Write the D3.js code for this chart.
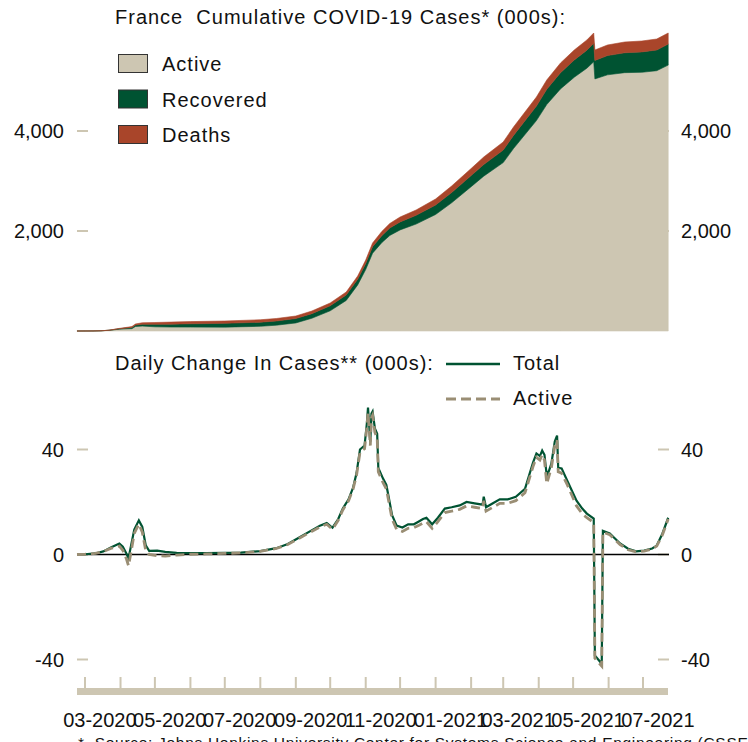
<!DOCTYPE html>
<html>
<head>
<meta charset="utf-8">
<style>
body { margin: 0; background: #fff; }
text { font-family: "Liberation Sans", Arial, sans-serif; fill: #111; white-space: pre; }
.title { font-size: 20px; letter-spacing: 1px; }
.tick text { font-size: 20px; }
.foot { font-size: 15.5px; letter-spacing: 0.7px; }
</style>
<script src="https://cdn.jsdelivr.net/npm/d3@7"></script>
</head>
<body>
<svg width="748" height="742"></svg>
<script>
// cumulative cases, thousands
var cumDates = ["2020-02-23","2020-03-08","2020-03-15","2020-03-22","2020-03-31","2020-04-07","2020-04-11","2020-04-14","2020-04-20","2020-05-01","2020-05-15","2020-06-01","2020-07-01","2020-08-01","2020-08-15","2020-09-01","2020-09-15","2020-10-01","2020-10-15","2020-10-25","2020-11-01","2020-11-07","2020-11-15","2020-11-22","2020-12-01","2020-12-15","2021-01-01","2021-01-15","2021-02-01","2021-02-12","2021-03-01","2021-03-10","2021-03-30","2021-04-08","2021-04-20","2021-05-02","2021-05-13","2021-05-19","2021-05-20","2021-05-31","2021-06-15","2021-06-30","2021-07-13","2021-07-23"];
var cumActive = [0,1,5,13,36,44,47,90,98,84,79,78,77,94,116,161,255,404,611,921,1230,1556,1767,1910,2022,2139,2330,2564,2886,3097,3368,3650,4209,4529,4842,5075,5256,5385,5042,5123,5167,5174,5206,5318];
var cumRecovered = [0,0,0,2,10,18,25,28,38,50,58,66,76,82,84,88,92,100,110,116,122,130,140,150,160,175,190,205,222,232,250,262,290,305,325,345,360,368,370,385,398,408,414,420];
var cumDeaths = [0,0,0,1,6,13,18,22,29,36,41,44,47,49,50,51,53,56,59,63,68,74,83,90,98,106,120,131,142,151,162,168,181,186,193,200,204,207,208,212,215,218,220,222];

// daily change, thousands (7-day)
var dayDates = ["2020-02-23","2020-03-01","2020-03-10","2020-03-17","2020-03-24","2020-03-31","2020-04-03","2020-04-06","2020-04-08","2020-04-10","2020-04-13","2020-04-17","2020-04-20","2020-04-23","2020-04-26","2020-05-03","2020-05-10","2020-05-20","2020-06-01","2020-06-15","2020-07-01","2020-07-15","2020-08-01","2020-08-15","2020-08-25","2020-09-04","2020-09-14","2020-09-22","2020-09-28","2020-10-03","2020-10-08","2020-10-12","2020-10-17","2020-10-21","2020-10-24","2020-10-27","2020-10-31","2020-11-02","2020-11-03","2020-11-05","2020-11-06","2020-11-07","2020-11-09","2020-11-11","2020-11-12","2020-11-14","2020-11-16","2020-11-19","2020-11-21","2020-11-24","2020-11-28","2020-12-03","2020-12-08","2020-12-13","2020-12-17","2020-12-21","2020-12-24","2020-12-29","2021-01-03","2021-01-09","2021-01-15","2021-01-22","2021-01-28","2021-02-04","2021-02-11","2021-02-12","2021-02-14","2021-02-20","2021-02-26","2021-03-05","2021-03-12","2021-03-20","2021-03-27","2021-03-30","2021-04-02","2021-04-04","2021-04-06","2021-04-08","2021-04-10","2021-04-12","2021-04-15","2021-04-17","2021-04-18","2021-04-21","2021-04-26","2021-05-04","2021-05-09","2021-05-13","2021-05-19","2021-05-20","2021-05-26","2021-05-27","2021-06-02","2021-06-11","2021-06-18","2021-06-25","2021-07-02","2021-07-09","2021-07-13","2021-07-18","2021-07-23"];
var dayTotal = [0,0.1,0.4,1.2,2.8,4.2,3.0,0.5,-1.4,3.0,9.5,13.0,10.5,3.5,1.4,1.5,1.0,0.6,0.5,0.5,0.6,0.7,1.3,2.4,4.0,6.5,9.0,11.0,12.0,10.2,13.5,17.5,21.0,25.5,31.0,40.0,41.5,50.0,56.0,43.0,53.7,54.5,48.0,46.0,33.0,31.0,29.0,26.5,22.0,15.0,11.0,10.3,11.5,11.5,12.5,13.5,14.0,11.5,14.0,17.5,18.0,18.7,20.0,19.5,19.0,22.0,18.0,19.5,21.0,21.0,22.0,25.0,35.0,38.5,37.5,39.6,38.0,30.0,32.0,34.6,43.0,45.3,33.0,32.8,28.0,20.5,17.5,15.6,13.7,-38.5,-41.6,9.0,8.0,4.2,2.2,1.2,1.5,2.3,3.4,8.0,14.0];
var dayActive = [0,0.1,0.4,1.1,2.4,3.2,1.6,-1.5,-4.3,0.5,8.0,11.6,8.5,1.5,0.0,-0.5,-0.6,-0.2,0.1,0.2,0.4,0.6,1.2,2.3,3.8,6.2,8.6,10.5,11.5,9.6,13.0,17.0,20.4,25.0,30.2,39.0,40.3,48.5,54.0,41.5,52.0,53.0,46.5,44.5,31.5,29.5,27.5,25.0,20.5,13.5,9.5,8.8,10.0,10.2,11.0,12.0,12.5,10.0,12.5,16.0,16.5,17.2,18.5,18.0,17.5,20.5,16.5,18.0,19.5,19.5,20.5,23.5,33.5,37.0,36.0,38.0,36.0,27.0,30.0,33.0,41.5,43.5,31.5,31.0,26.5,18.5,15.5,14.0,12.2,-39.5,-42.5,8.5,7.5,3.8,1.8,1.0,1.3,2.1,3.2,7.5,13.5];

var yTicksTop = [2000, 4000];
var yTicksDaily = [-40, 0, 40];
var monthTicks = ["2020-03","2020-04","2020-05","2020-06","2020-07","2020-08","2020-09","2020-10","2020-11","2020-12","2021-01","2021-02","2021-03","2021-04","2021-05","2021-06","2021-07"];
var monthLabels = ["03-2020","05-2020","07-2020","09-2020","11-2020","01-2021","03-2021","05-2021","07-2021"];

var beige = "#cdc6b2", green = "#005332", rust = "#a9452a", tan = "#9a8e74";
var parse = d3.utcParse("%Y-%m-%d");
var svg = d3.select("svg");

var x = d3.scaleUtc()
  .domain([parse("2020-03-01"), parse("2021-07-01")])
  .range([85, 643]);
var x0 = 77, x1 = 669;

// top chart
var yTop = d3.scaleLinear().domain([0, 4000]).range([331, 131]);

var rows = cumDates.map(function(d, i) {
  return { date: parse(d), active: cumActive[i], recovered: cumRecovered[i], deaths: cumDeaths[i] };
});
var stack = d3.stack().keys(["active", "recovered", "deaths"]);
var layers = stack(rows);
var colors = { active: beige, recovered: green, deaths: rust };

// plain hyphen for negatives, like the original
function fmtNum(comma) {
  var f = d3.format(comma ? "," : "");
  return function(v) { return (v < 0 ? "-" : "") + f(Math.abs(v)); };
}

function yAxes(scale, ticks, fmt) {
  var g = svg.append("g").attr("class", "tick");
  ticks.forEach(function(t) {
    g.append("line").attr("x1", x0).attr("x2", x0 + 11)
      .attr("y1", scale(t)).attr("y2", scale(t))
      .attr("stroke", beige).attr("stroke-width", 2);
    g.append("line").attr("x1", x1 - 11).attr("x2", x1)
      .attr("y1", scale(t)).attr("y2", scale(t))
      .attr("stroke", beige).attr("stroke-width", 2);
    g.append("text").attr("x", 64).attr("y", scale(t)).attr("dy", "0.36em")
      .attr("text-anchor", "end").text(fmt(t));
    g.append("text").attr("x", 681).attr("y", scale(t)).attr("dy", "0.36em")
      .text(fmt(t));
  });
}
yAxes(yTop, yTicksTop, fmtNum(true));

var area = d3.area()
  .x(function(d) { return x(d.data.date); })
  .y0(function(d) { return yTop(d[0]); })
  .y1(function(d) { return yTop(d[1]); });

svg.append("g").selectAll("path")
  .data(layers)
  .enter().append("path")
  .attr("d", area)
  .attr("fill", function(d) { return colors[d.key]; })
  .attr("stroke", function(d) { return colors[d.key]; })
  .attr("stroke-width", 0.6);

svg.append("text").attr("class", "title").attr("x", 115).attr("y", 24)
  .text("France  Cumulative COVID-19 Cases* (000s):");

var legend = svg.append("g");
[["Active", beige], ["Recovered", green], ["Deaths", rust]].forEach(function(k, i) {
  legend.append("rect").attr("x", 118.5).attr("y", 54.5 + i * 35.5)
    .attr("width", 29).attr("height", 18)
    .attr("fill", k[1]).attr("stroke", "#333").attr("stroke-width", 1);
  legend.append("text").attr("class", "title").attr("x", 162).attr("y", 71 + i * 35.5)
    .text(k[0]);
});

// daily chart
var yDay = d3.scaleLinear().domain([-40, 40]).range([659.5, 449.5]);
yAxes(yDay, yTicksDaily, fmtNum(false));

svg.append("line").attr("x1", x0).attr("x2", x1)
  .attr("y1", yDay(0)).attr("y2", yDay(0))
  .attr("stroke", "#000").attr("stroke-width", 1.6);

var line = d3.line()
  .x(function(d) { return x(d[0]); })
  .y(function(d) { return yDay(d[1]); });

svg.append("path")
  .attr("d", line(dayDates.map(function(d, i) { return [parse(d), dayTotal[i]]; })))
  .attr("fill", "none").attr("stroke", green).attr("stroke-width", 2.2);
svg.append("path")
  .attr("d", line(dayDates.map(function(d, i) { return [parse(d), dayActive[i]]; })))
  .attr("fill", "none").attr("stroke", tan).attr("stroke-width", 2.8)
  .attr("stroke-dasharray", "9,5");

svg.append("text").attr("class", "title").attr("x", 115).attr("y", 370)
  .text("Daily Change In Cases** (000s):");
svg.append("line").attr("x1", 446).attr("x2", 500).attr("y1", 364).attr("y2", 364)
  .attr("stroke", green).attr("stroke-width", 2.5);
svg.append("text").attr("class", "title").attr("x", 513).attr("y", 370).text("Total");
svg.append("line").attr("x1", 446).attr("x2", 500).attr("y1", 399).attr("y2", 399)
  .attr("stroke", tan).attr("stroke-width", 2.8).attr("stroke-dasharray", "10,5");
svg.append("text").attr("class", "title").attr("x", 513).attr("y", 405).text("Active");

// x axis
var xg = svg.append("g").attr("class", "tick");
xg.append("rect").attr("x", x0).attr("y", 688).attr("width", x1 - 1 - x0).attr("height", 7)
  .attr("fill", beige);
xg.selectAll("line.m")
  .data(monthTicks)
  .enter().append("line")
  .attr("x1", function(d) { return x(d3.utcParse("%Y-%m")(d)); })
  .attr("x2", function(d) { return x(d3.utcParse("%Y-%m")(d)); })
  .attr("y1", 677).attr("y2", 688)
  .attr("stroke", beige).attr("stroke-width", 2);
xg.selectAll("text.m")
  .data(monthLabels)
  .enter().append("text")
  .attr("x", function(d) { return x(d3.utcDay.offset(d3.utcParse("%m-%Y")(d), 13)); })
  .attr("y", 727)
  .attr("text-anchor", "middle")
  .text(function(d) { return d; });

svg.append("text").attr("class", "foot").attr("x", 78).attr("y", 748)
  .text("*  Source: Johns Hopkins University Center for Systems Science and Engineering (CSSE)");
</script>
</body>
</html>
